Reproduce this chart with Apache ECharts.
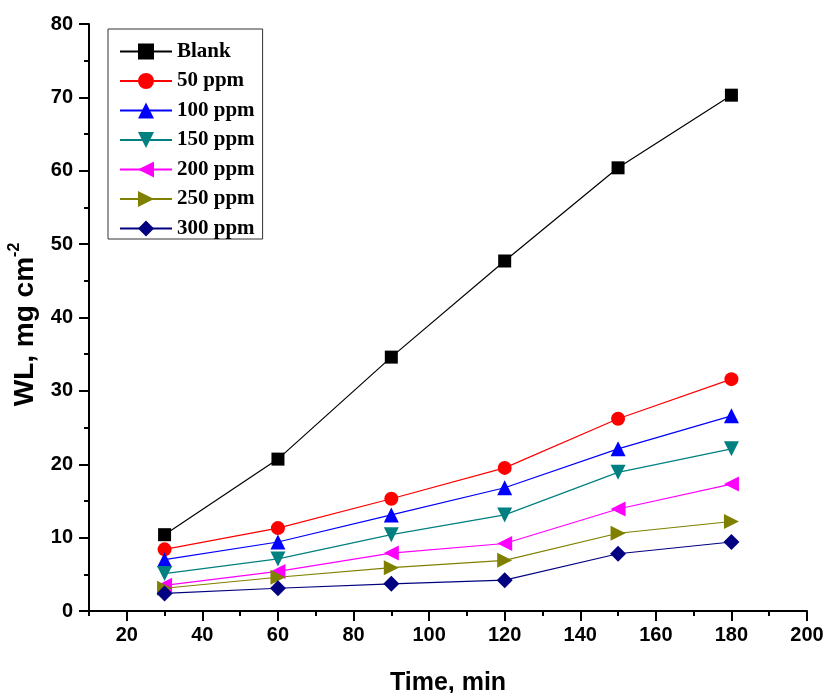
<!DOCTYPE html>
<html>
<head>
<meta charset="utf-8">
<script src="https://cdn.jsdelivr.net/npm/echarts@6/dist/echarts.min.js"></script>
<style>
  html, body { margin: 0; padding: 0; background: #fff; }
  #chart { width: 825px; height: 693px; }
</style>
</head>
<body>
<div id="chart"></div>
<script>
// time points (min)
const times = [30, 60, 90, 120, 150, 180];

// weight loss values, mg cm-2
const blank = [10.4, 20.7, 34.6, 47.7, 60.4, 70.3];
const ppm50 = [8.4, 11.3, 15.3, 19.5, 26.2, 31.6];
const ppm100 = [7.0, 9.4, 13.1, 16.8, 22.1, 26.6];
const ppm150 = [5.1, 7.1, 10.4, 13.1, 18.9, 22.1];
const ppm200 = [3.5, 5.4, 7.9, 9.2, 13.9, 17.3];
const ppm250 = [3.1, 4.6, 5.9, 6.9, 10.6, 12.2];
const ppm300 = [2.4, 3.1, 3.7, 4.2, 7.8, 9.4];

const seriesNames = ['Blank', '50 ppm', '100 ppm', '150 ppm', '200 ppm', '250 ppm', '300 ppm'];

// tick labels
const xMajorTicks = [20, 40, 60, 80, 100, 120, 140, 160, 180, 200];
const xMinorTicks = [10, 30, 50, 70, 90, 110, 130, 150, 170, 190];

const chart = echarts.init(document.getElementById('chart'));

function makeSeries(name, values, color, symbol, size, rotate) {
  return {
    name: name,
    type: 'line',
    data: times.map((t, i) => [t, values[i]]),
    symbol: symbol,
    symbolSize: size,
    symbolRotate: rotate || 0,
    showAllSymbol: true,
    lineStyle: { color: color, width: 1.2 },
    itemStyle: { color: color },
    emphasis: { disabled: true },
    z: 3
  };
}

const axisFont = { fontFamily: 'Liberation Sans, Arial, sans-serif', fontWeight: 'bold', fontSize: 20, color: '#000' };

const option = {
  animation: false,
  backgroundColor: '#fff',
  grid: { left: 89, top: 24, width: 718, height: 587, outerBoundsMode: 'none', containLabel: false },
  legend: {
    orient: 'vertical',
    left: 108,
    top: 29,
    padding: [12, 8, 0, 11],
    borderColor: '#333',
    borderWidth: 1,
    itemWidth: 52,
    itemHeight: 20,
    itemGap: 8.5,
    data: seriesNames,
    textStyle: {
      fontFamily: 'Liberation Serif, Times New Roman, serif',
      fontWeight: 'bold',
      fontSize: 21,
      color: '#000'
    }
  },
  xAxis: [
    {
      type: 'value',
      min: 10,
      max: 200,
      interval: 10,
      name: 'Time, min',
      nameLocation: 'middle',
      nameGap: 60,
      nameTextStyle: { fontFamily: 'Liberation Sans, Arial, sans-serif', fontWeight: 'bold', fontSize: 25, color: '#000' },
      axisLine: { show: true, onZero: false, lineStyle: { color: '#000', width: 2 } },
      axisTick: { show: true, length: 10, customValues: xMajorTicks, lineStyle: { color: '#000', width: 2 } },
      axisLabel: Object.assign({ margin: 14, customValues: xMajorTicks }, axisFont),
      splitLine: { show: false }
    },
    {
      type: 'value',
      min: 10,
      max: 200,
      interval: 10,
      position: 'bottom',
      axisLine: { show: false },
      axisTick: { show: true, length: 5, customValues: xMinorTicks, lineStyle: { color: '#000', width: 2 } },
      axisLabel: { show: false },
      splitLine: { show: false }
    }
  ],
  yAxis: {
    type: 'value',
    min: 0,
    max: 80,
    interval: 10,
    name: '{a|WL, mg cm}{b|-2}',
    nameLocation: 'middle',
    nameGap: 50,
    nameTextStyle: {
      padding: [0, 14, 0, 0],
      rich: {
        a: { fontFamily: 'Liberation Sans, Arial, sans-serif', fontWeight: 'bold', fontSize: 28, color: '#000', lineHeight: 32, verticalAlign: 'bottom' },
        b: { fontFamily: 'Liberation Sans, Arial, sans-serif', fontWeight: 'bold', fontSize: 16, color: '#000', lineHeight: 16, verticalAlign: 'top' }
      }
    },
    axisLine: { show: true, lineStyle: { color: '#000', width: 2 } },
    axisTick: { show: true, length: 10, lineStyle: { color: '#000', width: 2 } },
    minorTick: { show: true, splitNumber: 2, length: 5, lineStyle: { color: '#000', width: 2 } },
    axisLabel: Object.assign({ margin: 16 }, axisFont),
    splitLine: { show: false },
    minorSplitLine: { show: false }
  },
  series: [
    makeSeries('Blank', blank, '#000000', 'rect', 13),
    makeSeries('50 ppm', ppm50, '#ff0000', 'circle', 14),
    makeSeries('100 ppm', ppm100, '#0000ff', 'triangle', 15),
    makeSeries('150 ppm', ppm150, '#008080', 'triangle', 15, 180),
    makeSeries('200 ppm', ppm200, '#ff00ff', 'triangle', 15, 90),
    makeSeries('250 ppm', ppm250, '#808000', 'triangle', 15, -90),
    makeSeries('300 ppm', ppm300, '#000080', 'diamond', 16)
  ]
};

chart.setOption(option);
</script>
</body>
</html>
